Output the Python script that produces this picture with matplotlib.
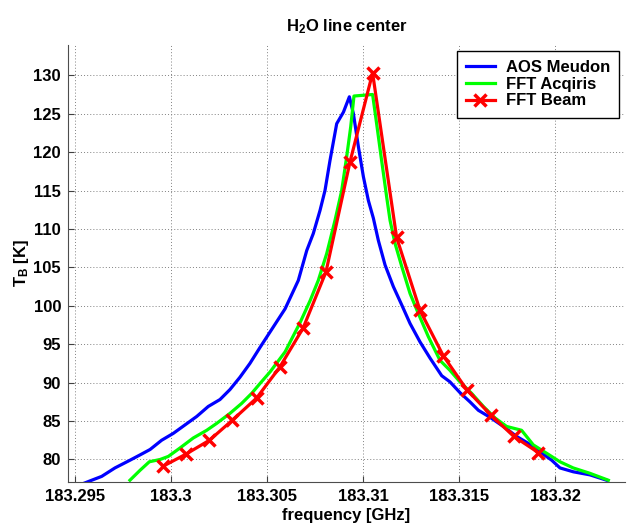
import matplotlib
matplotlib.use("Agg")
from matplotlib import pyplot as plt
from matplotlib.ticker import FixedLocator, FixedFormatter

# AOS Meudon
aos_freq = [183.29536, 183.29587, 183.29639, 183.29708, 183.29786, 183.29839, 183.29891, 183.29951,
            183.30012, 183.30073, 183.30134, 183.30194, 183.30255, 183.30307, 183.30359, 183.30411,
            183.30464, 183.30516, 183.30594, 183.30663, 183.30707, 183.30741, 183.30776, 183.30802,
            183.30828, 183.30863, 183.30898, 183.30929, 183.30950, 183.30976, 183.31002, 183.31028,
            183.31054, 183.31080, 183.31115, 183.31158, 183.31202, 183.31245, 183.31297, 183.31349,
            183.31410, 183.31453, 183.31505, 183.31557, 183.31601, 183.31661, 183.31731, 183.31800,
            183.31861, 183.31922, 183.31983, 183.32026, 183.32095, 183.32182, 183.32269]
aos_tb = [76.8, 77.3, 77.8, 78.9, 79.9, 80.6, 81.3, 82.5,
          83.4, 84.5, 85.6, 86.9, 87.8, 89.1, 90.7, 92.5,
          94.6, 96.6, 99.6, 103.3, 107.2, 109.4, 112.4, 115.0,
          118.9, 123.7, 125.2, 127.2, 125.0, 120.7, 116.8, 113.7,
          111.4, 108.5, 105.3, 102.5, 100.1, 97.7, 95.3, 93.2,
          90.9, 90.1, 88.7, 87.5, 86.4, 85.5, 84.3, 83.0,
          82.1, 81.0, 79.9, 78.9, 78.4, 78.0, 77.3]

# FFT Acqiris
acq_freq = [183.29786, 183.29839, 183.29887, 183.29943, 183.29986, 183.30047, 183.30116, 183.30186,
            183.30238, 183.30307, 183.30368, 183.30420, 183.30464, 183.30516, 183.30594, 183.30672,
            183.30725, 183.30767, 183.30811, 183.30854, 183.30889, 183.30915, 183.30936, 183.30953,
            183.31002, 183.31050, 183.31071, 183.31097, 183.31123, 183.31141, 183.31167, 183.31202,
            183.31245, 183.31288, 183.31340, 183.31401, 183.31453, 183.31505, 183.31566, 183.31627,
            183.31688, 183.31748, 183.31826, 183.31887, 183.31957, 183.32026, 183.32095, 183.32182,
            183.32278]
acq_tb = [77.3, 78.6, 79.7, 80.0, 80.4, 81.5, 82.8, 83.8,
          84.7, 86.0, 87.3, 88.6, 89.9, 91.4, 94.0, 97.8,
          100.7, 103.3, 106.8, 111.1, 115.0, 119.4, 123.3, 127.3,
          127.4, 127.5, 123.7, 118.9, 114.2, 111.1, 108.1, 105.1,
          101.6, 99.0, 96.0, 92.9, 91.6, 90.1, 88.6, 86.9,
          85.4, 84.3, 83.8, 81.9, 80.8, 79.7, 78.9, 78.2,
          77.3]

# FFT Beam
beam_freq = [183.29957, 183.30078, 183.30200, 183.30319, 183.30446, 183.30566, 183.30688, 183.30807,
             183.30932, 183.31050, 183.31175, 183.31297, 183.31418, 183.31540, 183.31665, 183.31786,
             183.31913]
beam_tb = [79.1, 80.7, 82.5, 85.1, 88.0, 92.0, 97.1, 104.4,
           118.7, 130.3, 108.9, 99.4, 93.5, 89.1, 85.8, 83.0,
           80.9]

x_ticks = [183.295, 183.3, 183.305, 183.31, 183.315, 183.32]
x_tick_labels = ["183.295", "183.3", "183.305", "183.31", "183.315", "183.32"]
y_ticks = [80, 85, 90, 95, 100, 105, 110, 115, 120, 125, 130]


def main():
    plt.rcParams['font.family'] = ['Liberation Sans', 'DejaVu Sans']
    plt.rcParams['font.weight'] = 'bold'
    plt.rcParams['mathtext.fontset'] = 'custom'
    plt.rcParams['mathtext.rm'] = 'Liberation Sans:bold'
    plt.rcParams['mathtext.bf'] = 'Liberation Sans:bold'

    fig = plt.figure(figsize=(6.3, 5.27), dpi=100)
    ax = fig.add_axes([68 / 630, 45 / 527, 557 / 630, 437 / 527])

    ax.plot(aos_freq, aos_tb, color='#0000ff', lw=2.3, label='AOS Meudon')
    ax.plot(acq_freq, acq_tb, color='#00ff00', lw=2.3, label='FFT Acqiris')
    ax.plot(beam_freq, beam_tb, color='#ff0000', lw=2.3, marker='x', ms=8, mew=2.5,
            label='FFT Beam')

    ax.set_xlim(183.294635, 183.323646)
    ax.set_ylim(77.07, 133.94)

    ax.xaxis.set_major_locator(FixedLocator(x_ticks))
    ax.xaxis.set_major_formatter(FixedFormatter(x_tick_labels))
    ax.set_yticks(y_ticks)

    ax.grid(True, color='0.5', linestyle=(0, (1, 2.2)), lw=0.7)
    ax.tick_params(direction='in', length=4, width=0.8, labelsize=12, color='0.25', pad=5)
    for lab in ax.get_xticklabels() + ax.get_yticklabels():
        lab.set_fontweight('bold')

    ax.spines['top'].set_visible(False)
    ax.spines['right'].set_visible(False)
    ax.spines['left'].set_color('0.3')
    ax.spines['bottom'].set_color('0.3')

    ax.set_title(r'$\mathregular{H_2}$O line center', fontsize=12, fontweight='bold', pad=10)
    ax.set_xlabel('frequency [GHz]', fontsize=12, fontweight='bold', labelpad=3)
    ax.set_ylabel(r'$\mathregular{T_B}$ [K]', fontsize=12, fontweight='bold', labelpad=2)

    leg = ax.legend(loc='upper right', fancybox=False, framealpha=1, edgecolor='black',
                    fontsize=12, borderaxespad=0.35, handlelength=1.75, handletextpad=0.65,
                    borderpad=0.55, labelspacing=0.1)
    leg.get_frame().set_linewidth(1.0)

    fig.savefig('out.png', dpi=100)


if __name__ == "__main__":
    main()
